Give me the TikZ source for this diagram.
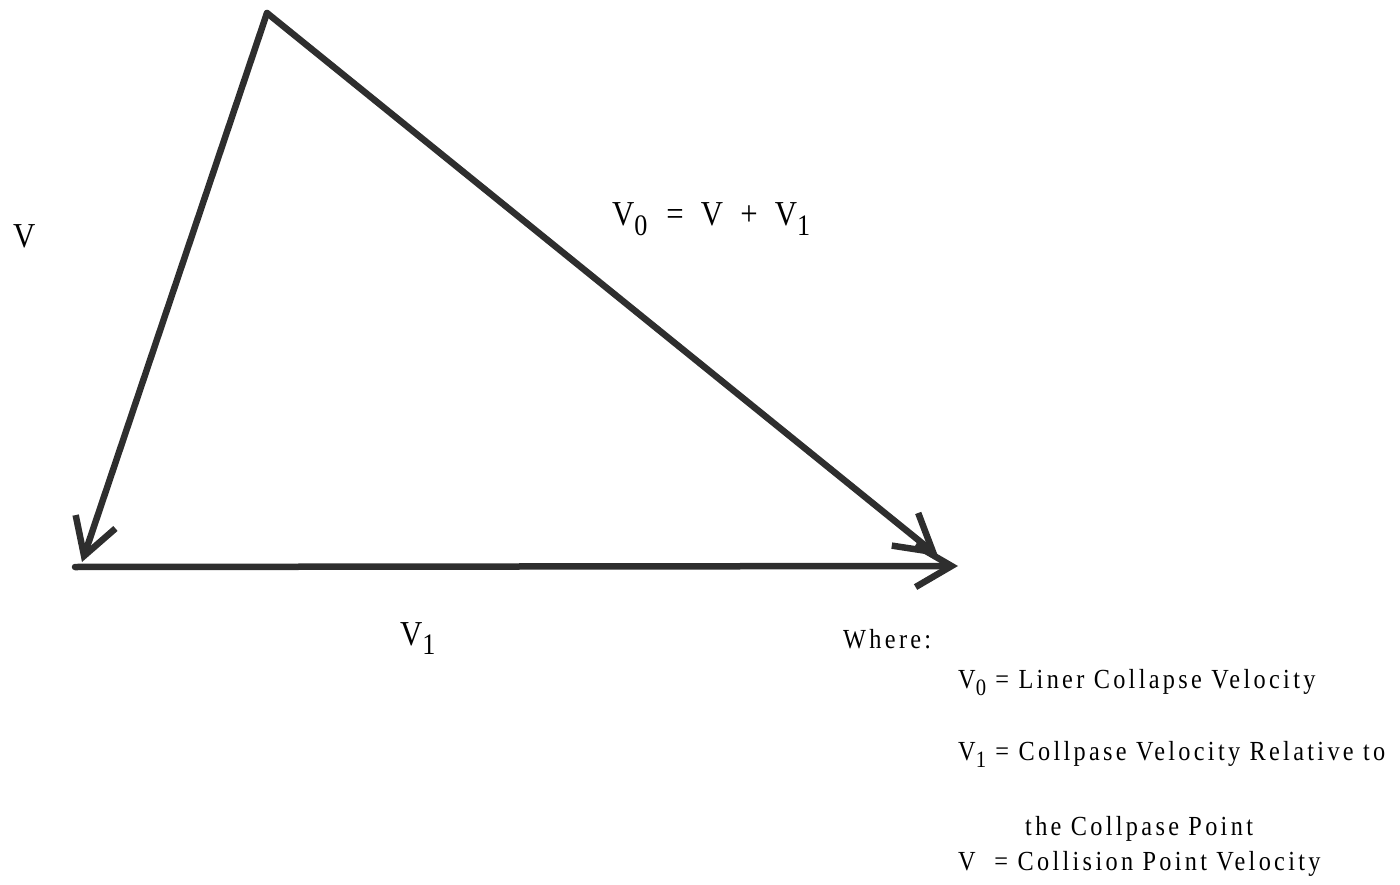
\documentclass[tikz,border=0pt]{standalone}
\usepackage{fontspec}
\setmainfont{Liberation Serif}[FakeStretch=0.88, LetterSpace=12]
\usetikzlibrary{arrows.meta}
\newcommand{\subd}[1]{\raisebox{-0.6ex}{\fontsize{0.85em}{1em}\selectfont #1}}
\begin{document}
\begin{tikzpicture}[x=1pt,y=-1pt,
  vec/.style={draw=black!82, line width=6.5pt, line cap=round, line join=round,
    -{Straight Barb[length=36pt,width=42pt]}},
  lbl/.style={anchor=base west, inner sep=0pt, font=\fontsize{35}{40}\selectfont},
  leg/.style={anchor=base west, inner sep=0pt, font=\fontsize{27.6}{32}\selectfont}]
\useasboundingbox (0,0) rectangle (1400,885);
\coordinate (top) at (267,13);
\coordinate (vtip) at (82,562);
\coordinate (hstart) at (75,567);
\coordinate (htip) at (958,566);
\coordinate (dtip) at (938,556);
\draw[vec] (top) -- (vtip);
\draw[vec] (hstart) -- (htip);
\draw[vec] (top) -- (dtip);
\node[lbl] (lv) at (13,248) {V};
\node[lbl] (lv0) at (612,226) {V\subd{0}\hspace{0.2em} = \hspace{0.15em}V\hspace{0.15em} + \hspace{0.15em}V\subd{1}};
\node[lbl] (lv1) at (400,645) {V\subd{1}};
\node[leg] (where) at (843,648) {Where:};
\node[leg] (l1) at (958,688) {V\subd{0} = Liner Collapse Velocity};
\node[leg] (l2) at (958,760) {V\subd{1} = Collpase Velocity Relative to};
\node[leg] (l3) at (1025,835) {the Collpase Point};
\node[leg] (l4) at (958,870) {V\ \ = Collision Point Velocity};
\end{tikzpicture}
\end{document}
